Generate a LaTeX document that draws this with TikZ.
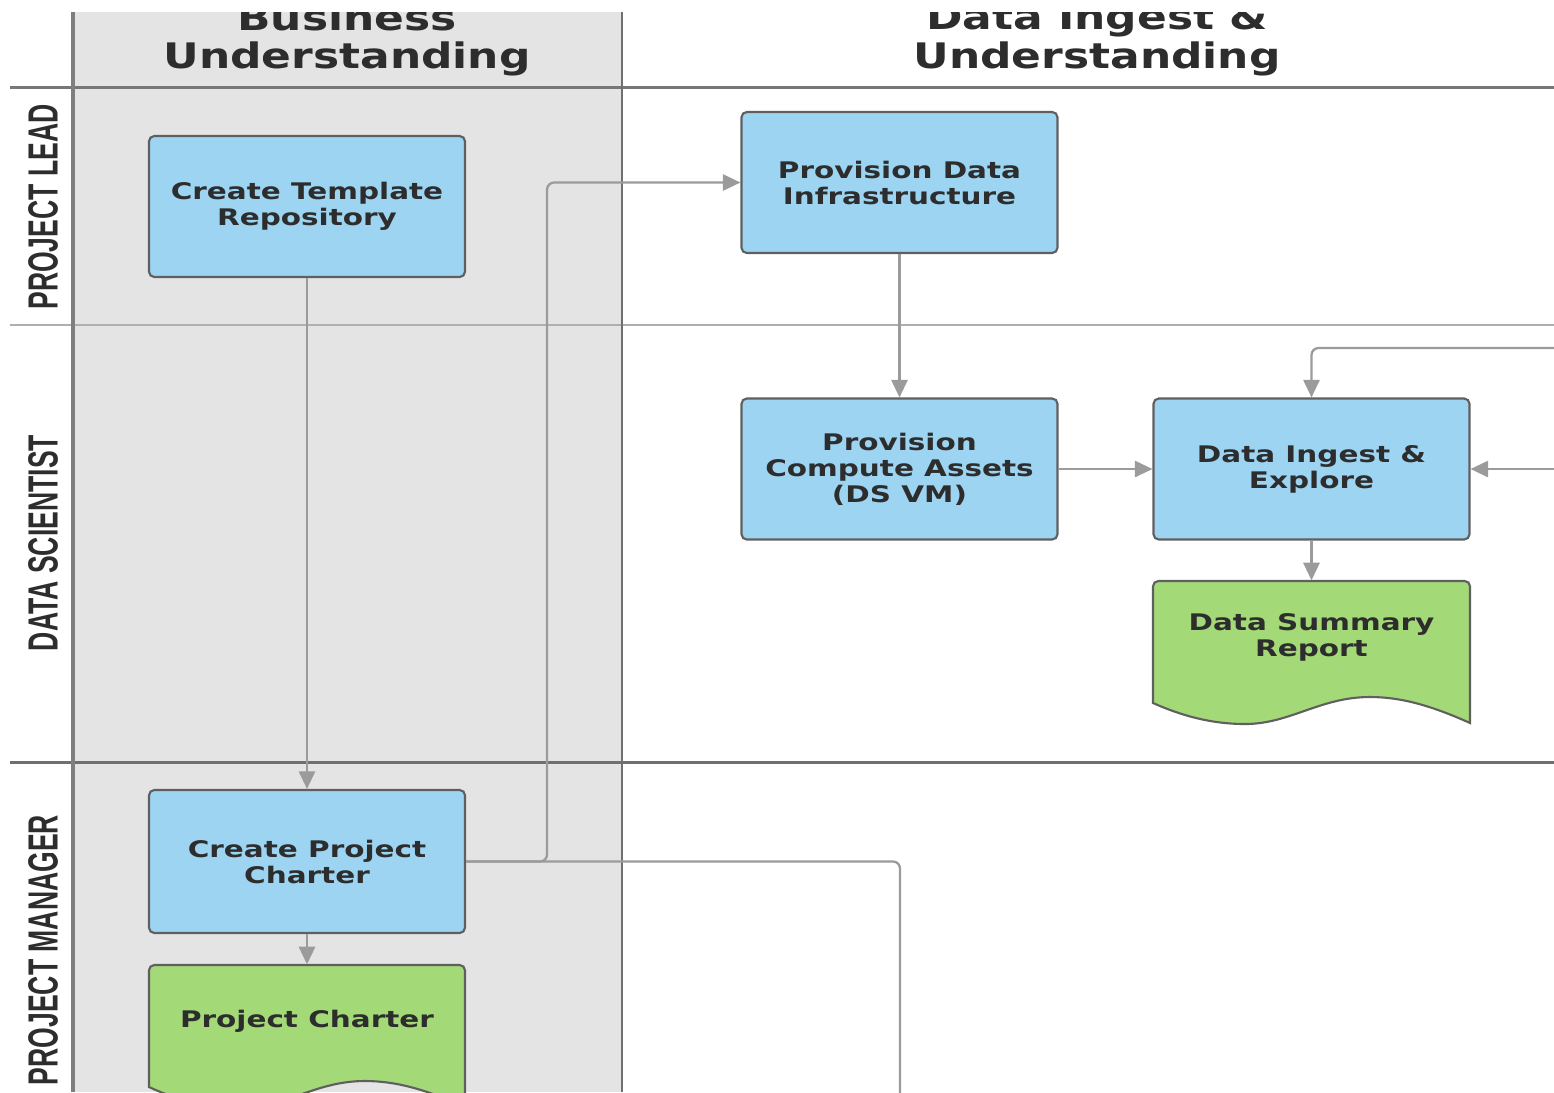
\documentclass[tikz,border=0pt]{standalone}
\usepackage{fontspec}
\usepackage{xcolor}
\usepackage{tikz}
\usetikzlibrary{arrows.meta}

\newfontfamily\boxfont[FakeStretch=1.29]{DejaVu Sans}
\newfontfamily\headfont[FakeStretch=1.25]{DejaVu Sans}
\newfontfamily\lanefont[FakeStretch=0.63]{Liberation Sans}

\definecolor{taskblue}{RGB}{156,212,242}
\definecolor{docgreen}{RGB}{163,217,119}
\definecolor{lanegray}{RGB}{228,228,228}
\definecolor{rimgray}{RGB}{95,95,95}
\definecolor{wiregray}{RGB}{155,155,155}
\definecolor{inkgray}{RGB}{45,45,45}

\tikzset{
  task/.style={draw=rimgray, fill=taskblue, line width=0.6pt, rounded corners=1.5pt,
    minimum width=31.6mm, minimum height=14.1mm, inner sep=0pt, align=center,
    text=inkgray, font=\boxfont\bfseries\fontsize{6.5}{7.4}\selectfont},
  docbox/.style={minimum width=31.7mm, minimum height=11.2mm, inner sep=0pt, align=center,
    text=inkgray, font=\boxfont\bfseries\fontsize{6.5}{7.4}\selectfont},
  docshape/.style={draw=rimgray, fill=docgreen, line width=0.6pt},
  lanelabel/.style={rotate=90, text=inkgray, font=\lanefont\bfseries\fontsize{12}{13}\selectfont},
  phase/.style={align=center, text=inkgray, font=\headfont\bfseries\fontsize{10}{11}\selectfont},
  conn/.style={draw=wiregray, line width=0.65pt, rounded corners=2pt,
    -{Triangle[length=5pt,width=4.6pt]}},
  wire/.style={draw=wiregray, line width=0.65pt, rounded corners=2pt}
}

\begin{document}
\begin{tikzpicture}[x=0.1mm, y=-0.1mm]
\useasboundingbox (0,0) rectangle (1554,1092);

% swimlane background
\fill[lanegray] (73,12) rectangle (622,1092);
\begin{scope}
  \clip (0,12) rectangle (1554,1092);
  \node[phase] (bizphase) at (347,40) {Business\\Understanding};
  \node[phase] (ingestphase) at (1097,40) {Data Ingest \&\\Understanding};
\end{scope}

\draw[rimgray!85, line width=0.85pt] (10,87) -- (1554,87);
\draw[rimgray!50, line width=0.6pt] (10,325) -- (1554,325);
\draw[rimgray!90, line width=0.85pt] (10,762) -- (1554,762);
\draw[rimgray!80, line width=1.2pt] (73,12) -- (73,1092);
\draw[rimgray!90, line width=0.85pt] (622,12) -- (622,1092);

% roles
\node[lanelabel] (lead) at (43,207) {PROJECT LEAD};
\node[lanelabel] (scientist) at (43,543) {DATA SCIENTIST};
\node[lanelabel] (manager) at (43,950) {PROJECT MANAGER};

% tasks
\node[task] (tmpl) at (307,206.5) {Create Template\\Repository};
\node[task] (infra) at (899.5,182.5) {Provision Data\\Infrastructure};
\node[task] (compute) at (899.5,469) {Provision\\Compute Assets\\(DS VM)};
\node[task] (ingest) at (1311.5,469) {Data Ingest \&\\Explore};
\node[task, minimum height=14.3mm] (charter) at (307,861.5) {Create Project\\Charter};

% documents
\draw[docshape] (1153,703) [rounded corners=1.5pt] -- (1153,581) -- (1470,581) [sharp corners] -- (1470,723)
  .. controls (1430,705) and (1400,697) .. (1370,697)
  .. controls (1320,697) and (1290,724) .. (1245,724)
  .. controls (1210,724) and (1180,715) .. (1153,703) -- cycle;
\node[docbox] (summary) at (1311.5,637) {Data Summary\\Report};
\draw[docshape] (149,1087) [rounded corners=1.5pt] -- (149,965) -- (465,965) [sharp corners] -- (465,1107)
  .. controls (425,1089) and (395,1081) .. (365,1081)
  .. controls (315,1081) and (285,1108) .. (240,1108)
  .. controls (205,1108) and (175,1099) .. (149,1087) -- cycle;
\node[docbox] (pcharter) at (307,1021) {Project Charter};

% flow
\coordinate (offpage) at (900,1100);
\coordinate (loopright) at (1554,469);
\coordinate (looptop) at (1554,348);
\draw[conn] (tmpl.south) -- (charter.north);
\draw[conn] (charter.east) -- ++(81,0) |- (infra.west);
\draw[wire] (charter.east) -| (offpage);
\draw[conn] (infra.south) -- (compute.north);
\draw[conn] (compute.east) -- (ingest.west);
\draw[conn] (loopright) -- (ingest.east);
\draw[conn] (looptop) -| (ingest.north);
\draw[conn] (ingest.south) -- (summary.north);
\draw[conn] (charter.south) -- (pcharter.north);
\end{tikzpicture}
\end{document}
